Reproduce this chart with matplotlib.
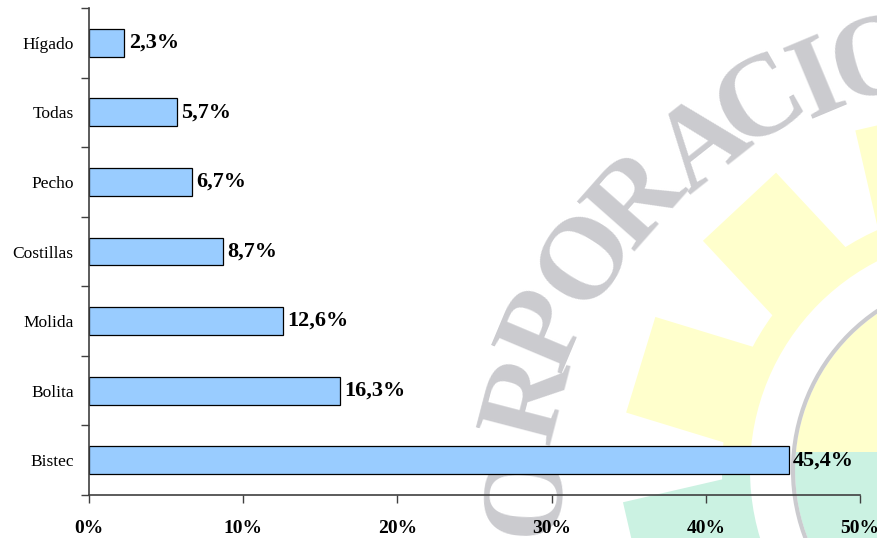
import numpy as np
import matplotlib.pyplot as plt
from matplotlib.patches import Polygon, Circle, Rectangle

# --- Datos ---
categorias = ["Bistec", "Bolita", "Molida", "Costillas", "Pecho", "Todas", "Hígado"]
porcentajes = [45.4, 16.3, 12.6, 8.7, 6.7, 5.7, 2.3]
ticks_x = [0, 10, 20, 30, 40, 50]

plt.rcParams['font.family'] = ['Liberation Serif', 'DejaVu Serif']

W, H = 878, 538
fig = plt.figure(figsize=(W / 100, H / 100), dpi=100)

# --- Marca de agua de fondo (logo) ---
bg = fig.add_axes([0, 0, 1, 1], zorder=0)
bg.set_xlim(0, W)
bg.set_ylim(H, 0)
bg.axis('off')

amarillo = '#FFFFCC'
verde = '#CBF2E2'
gris = '#CBCBCF'
cx, cy = 985, 470
split_y = 452

def engranaje(color, clip):
    parts = [Circle((cx, cy), 263)]
    for a in np.arange(13, 373, 30):
        t = np.radians(a)
        u = np.array([np.cos(t), -np.sin(t)])
        n = np.array([np.sin(t), np.cos(t)])
        c = np.array([cx, cy])
        pts = [c + 50 * n, c + 360 * u + 50 * n, c + 360 * u - 50 * n, c - 50 * n]
        parts.append(Polygon(pts))
    for p in parts:
        p.set_facecolor(color)
        p.set_edgecolor('none')
        bg.add_patch(p)
        p.set_clip_path(clip)

top = Rectangle((0, 0), 2000, split_y, transform=bg.transData)
bot = Rectangle((0, split_y), 2000, 1000, transform=bg.transData)
engranaje(amarillo, top)
engranaje(verde, bot)
bg.add_patch(Circle((cx, cy), 235, facecolor='white', edgecolor='none'))
c1 = Circle((cx, cy), 190, facecolor=amarillo, edgecolor='none')
bg.add_patch(c1)
c1.set_clip_path(top)
c2 = Circle((cx, cy), 190, facecolor=verde, edgecolor='none')
bg.add_patch(c2)
c2.set_clip_path(bot)
bg.add_patch(Circle((cx, cy), 192, facecolor='none', edgecolor=gris, lw=3))

# texto curvo del logo
letras = "ORPORACIO"
pos_letras = [(517, 490), (520, 395), (537, 325), (577, 252), (630, 193),
              (698, 137), (755, 93), (813, 73), (874, 52)]
tx, ty = 1000, 520
for ch, (lx, ly) in zip(letras, pos_letras):
    a = np.degrees(np.arctan2(ty - ly, lx - tx))
    bg.text(lx, ly, ch, rotation=a - 90, rotation_mode='anchor',
            ha='center', va='center_baseline', fontsize=84,
            fontweight='bold', color=gris)

# --- Grafico de barras ---
ax = fig.add_axes([89 / W, 43 / H, (860 - 89) / W, (495 - 8) / H], zorder=1)
ax.patch.set_alpha(0)

y = np.arange(len(categorias))
bars = ax.barh(y, porcentajes, height=0.4, color='#99CCFF', edgecolor='black', linewidth=0.9)

for b, v in zip(bars, porcentajes):
    ax.annotate(f"{v:.1f}%".replace('.', ','), (b.get_width(), b.get_y() + b.get_height() / 2),
                xytext=(3, 0), textcoords='offset points', ha='left', va='center',
                fontsize=16, fontweight='bold')

ax.set_xlim(0, 50)
ax.set_ylim(-0.5, len(categorias) - 0.5)

ax.set_xticks(ticks_x)
ax.set_xticklabels([f"{t}%" for t in ticks_x], fontsize=14, fontweight='bold')
ax.tick_params(axis='x', direction='out', length=6, width=1, color='#404040', pad=12)

ax.set_yticks(np.arange(-0.5, len(categorias), 1))
ax.set_yticklabels([])
ax.set_yticks(y, minor=True)
ax.set_yticklabels(categorias, minor=True, fontsize=12.5)
ax.tick_params(axis='y', which='major', direction='out', length=6, width=1, color='#404040')
ax.tick_params(axis='y', which='minor', length=0, pad=11)

for s in ['top', 'right']:
    ax.spines[s].set_visible(False)
for s in ['left', 'bottom']:
    ax.spines[s].set_color('#404040')
    ax.spines[s].set_linewidth(1.2)

plt.savefig('out.png', dpi=100)
